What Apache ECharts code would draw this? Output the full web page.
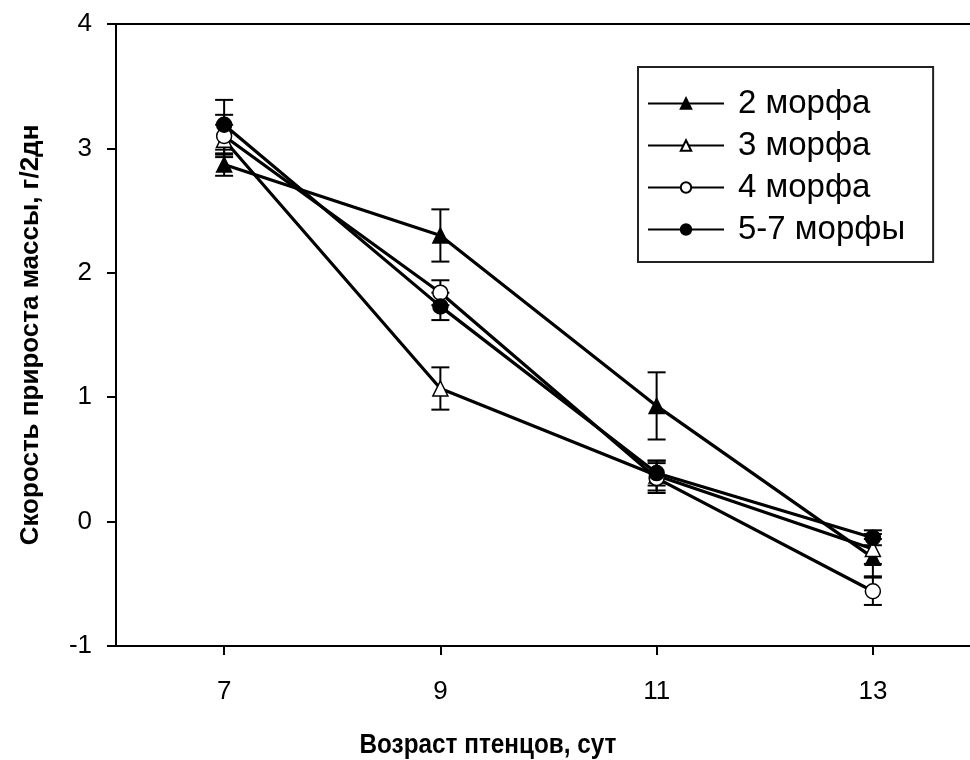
<!DOCTYPE html>
<html lang="ru">
<head>
<meta charset="UTF-8">
<title>Скорость прироста массы</title>
<script src="https://cdn.jsdelivr.net/npm/echarts@6/dist/echarts.min.js"></script>
<style>
html, body { margin: 0; padding: 0; background: #fff; }
#main { width: 970px; height: 760px; }
</style>
</head>
<body>
<div id="main"></div>
<script>
// возраст птенцов, сут
var ages = [7, 9, 11, 13];
var seriesNames = ['2 морфа', '3 морфа', '4 морфа', '5-7 морфы'];
// средние значения
var morph2 = [2.87, 2.30, 0.93, -0.29];
var morph3 = [3.07, 1.07, 0.37, -0.22];
var morph4 = [3.10, 1.84, 0.35, -0.56];
var morph57 = [3.19, 1.73, 0.39, -0.13];
// ошибки
var err2 = [0.09, 0.21, 0.27, 0.15];
var err3 = [0.12, 0.17, 0.12, 0.12];
var err4 = [0.17, 0.10, 0.12, 0.11];
var err57 = [0.20, 0.11, 0.10, 0.06];

var font = '"Liberation Sans", Arial, sans-serif';
var chart = echarts.init(document.getElementById('main'));

function pts(v) {
  return ages.map(function (a, i) { return [a, v[i]]; });
}
function errPts(v, e) {
  return ages.map(function (a, i) { return [a, v[i] - e[i], v[i] + e[i]]; });
}
function errSeries(v, e) {
  return {
    type: 'custom',
    z: 1,
    silent: true,
    data: errPts(v, e),
    renderItem: function (params, api) {
      var lo = api.coord([api.value(0), api.value(1)]);
      var hi = api.coord([api.value(0), api.value(2)]);
      var w = 9;
      var st = { stroke: '#000', lineWidth: 2 };
      return {
        type: 'group',
        children: [
          { type: 'line', shape: { x1: lo[0], y1: lo[1], x2: hi[0], y2: hi[1] }, style: st },
          { type: 'line', shape: { x1: lo[0] - w, y1: lo[1], x2: lo[0] + w, y2: lo[1] }, style: st },
          { type: 'line', shape: { x1: hi[0] - w, y1: hi[1], x2: hi[0] + w, y2: hi[1] }, style: st }
        ]
      };
    }
  };
}
function lineSeries(name, v, symbol, fill) {
  return {
    name: name,
    type: 'line',
    z: 3,
    data: pts(v),
    symbol: symbol,
    symbolSize: 15,
    showAllSymbol: true,
    lineStyle: { color: '#000', width: 3.2 },
    itemStyle: { color: fill, borderColor: '#000', borderWidth: 1.5 },
    emphasis: { disabled: true }
  };
}

var option = {
  animation: false,
  backgroundColor: '#fff',
  grid: { left: 116, top: 24, width: 865, height: 622, outerBoundsMode: 'none', containLabel: false },
  legend: {
    left: 638, top: 67,
    orient: 'vertical',
    itemWidth: 76, itemHeight: 13, itemGap: 9,
    padding: [20, 28, 16, 9],
    borderColor: '#222', borderWidth: 2,
    textStyle: { fontFamily: font, fontSize: 33, lineHeight: 32, color: '#000', padding: [0, 0, 0, 9] },
    data: seriesNames
  },
  xAxis: {
    type: 'value', min: 6, max: 14, interval: 1,
    axisLine: { onZero: false, lineStyle: { color: '#000', width: 2 } },
    axisTick: { length: 9, lineStyle: { color: '#000', width: 2 }, customValues: ages },
    axisLabel: { fontFamily: font, fontSize: 26, color: '#000', margin: 33, customValues: ages },
    splitLine: { show: false }
  },
  yAxis: {
    type: 'value', min: -1, max: 4, interval: 1,
    name: 'Скорость прироста массы, г/2дн',
    nameLocation: 'middle', nameGap: 72,
    nameTextStyle: { fontFamily: font, fontSize: 26, fontWeight: 'bold', color: '#000' },
    axisLine: { lineStyle: { color: '#000', width: 2 } },
    axisTick: { length: 9, lineStyle: { color: '#000', width: 2 } },
    axisLabel: { fontFamily: font, fontSize: 26, color: '#000', margin: 24 },
    splitLine: { show: false }
  },
  graphic: [
    { type: 'line', shape: { x1: 116, y1: 24, x2: 981, y2: 24 }, style: { stroke: '#000', lineWidth: 2 } },
    { type: 'text', x: 488, y: 746, scaleX: 0.9, style: {
        text: 'Возраст птенцов, сут', x: 0, y: 0,
        font: 'bold 27px ' + font, fill: '#000', textAlign: 'center', textVerticalAlign: 'middle' } }
  ],
  series: [
    errSeries(morph2, err2),
    errSeries(morph3, err3),
    errSeries(morph4, err4),
    errSeries(morph57, err57),
    lineSeries('2 морфа', morph2, 'triangle', '#000'),
    lineSeries('3 морфа', morph3, 'triangle', '#fff'),
    lineSeries('4 морфа', morph4, 'circle', '#fff'),
    lineSeries('5-7 морфы', morph57, 'circle', '#000')
  ]
};
chart.setOption(option);
</script>
</body>
</html>
